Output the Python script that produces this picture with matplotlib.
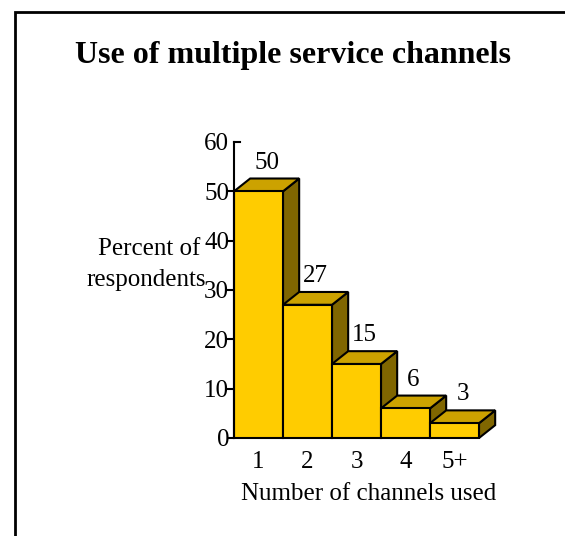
import numpy as np
import matplotlib
matplotlib.use('Agg')
import matplotlib.pyplot as plt
from matplotlib.patches import Polygon, Rectangle
from matplotlib.transforms import blended_transform_factory

plt.rcParams['font.family'] = ['Liberation Serif', 'DejaVu Serif']

categories = ['1', '2', '3', '4', '5+']
percents = [50, 27, 15, 6, 3]
y_ticks = [0, 10, 20, 30, 40, 50, 60]

FRONT = '#FFCC00'
TOP = '#CCA200'
SIDE = '#806600'
FS = 18

fig = plt.figure(figsize=(5.65, 5.36), dpi=100)

# frame round the whole picture (runs off right/bottom edge)
fig.patches.append(Rectangle((15 / 565, -0.1), 1.2, (536 - 12) / 536 + 0.1,
                             transform=fig.transFigure, fill=False,
                             edgecolor='black', linewidth=2))

ax = fig.add_axes([234 / 565, 98 / 536, 269.5 / 565, 296 / 536])
ax.set_xlim(0, 5.5)
ax.set_ylim(0, 60)

dx = 0.33   # depth offset in bar units
dy = 2.6    # depth offset in percent units

for i, v in enumerate(percents):
    x0, x1 = i, i + 1
    # side face
    ax.add_patch(Polygon([(x1, 0), (x1 + dx, dy), (x1 + dx, v + dy), (x1, v)],
                         closed=True, facecolor=SIDE, edgecolor='black',
                         linewidth=1.5, clip_on=False, zorder=2))
    # top face
    ax.add_patch(Polygon([(x0, v), (x0 + dx, v + dy), (x1 + dx, v + dy), (x1, v)],
                         closed=True, facecolor=TOP, edgecolor='black',
                         linewidth=1.5, clip_on=False, zorder=2))
    # front face
    ax.add_patch(Rectangle((x0, 0), 1, v, facecolor=FRONT, edgecolor='black',
                           linewidth=1.5, clip_on=False, zorder=3))
    ax.text(i + 0.5 + dx / 2, v + dy + 1.0, str(v), ha='center', va='bottom',
            fontsize=FS)
    ax.text(i + 0.5, -2.6, categories[i], ha='center', va='top', fontsize=FS)

for side in ['top', 'right', 'bottom']:
    ax.spines[side].set_visible(False)
ax.spines['left'].set_linewidth(1.5)
ax.spines['left'].set_zorder(4)
ax.set_yticks(y_ticks)
ax.set_yticklabels([str(t) for t in y_ticks], fontsize=FS)
ax.tick_params(axis='y', direction='out', length=5, width=1.5, pad=-1.5)
ax.yaxis.get_major_ticks()[-1].tick1line.set_visible(False)
ax.set_xticks([])

# short cap at the top of the axis, pointing right
trans = blended_transform_factory(ax.transAxes, ax.transData)
ax.plot([0, 0.022], [60, 60], color='black', linewidth=1.5, transform=trans,
        clip_on=False)

fig.text(149 / 565, 1 - 249 / 536, 'Percent of', ha='center', va='center',
         fontsize=FS)
fig.text(146 / 565, 1 - 280 / 536, 'respondents', ha='center', va='center',
         fontsize=FS)
fig.text(369 / 565, 1 - 494 / 536, 'Number of channels used', ha='center',
         va='center', fontsize=FS)
fig.text(293 / 565, 1 - 55 / 536, 'Use of multiple service channels',
         ha='center', va='center', fontsize=23, fontweight='bold')

fig.savefig('out.png', dpi=100)
